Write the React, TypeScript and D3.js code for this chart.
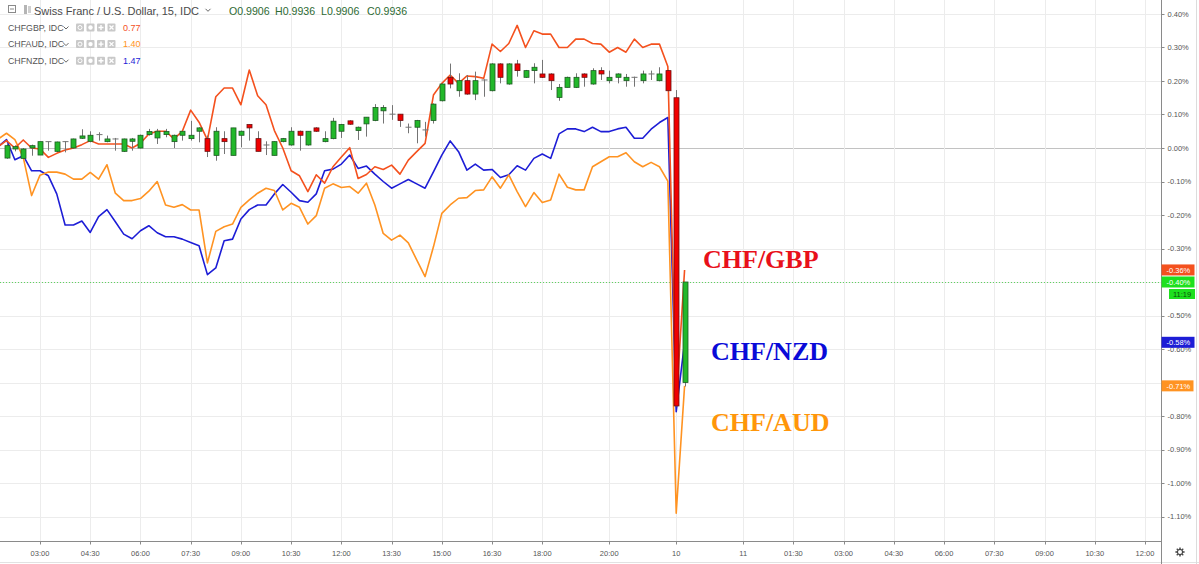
import React from "react";
import * as d3 from "d3";

const LINE_START = -5;
const CANDLE_START = -4;

const CHFGBP = [
  0.004, 0.022, 0.0, 0.024, 0.0, -0.003, -0.028, -0.016, -0.006, 0.0,
  0.01, 0.022, 0.012, 0.012, 0.012, 0.012, 0.0, 0.014, 0.042, 0.05,
  0.05, 0.027, 0.05, 0.113, 0.077, 0.024, 0.153, 0.179, 0.179, 0.129,
  0.233, 0.156, 0.129, 0.052, 0.0, -0.068, -0.083, -0.13, -0.08, -0.105,
  -0.056, -0.027, 0.001, -0.091, -0.079, -0.056, -0.064, -0.051, -0.078, -0.036,
  -0.011, 0.014, 0.158, 0.193, 0.218, 0.193, 0.215, 0.213, 0.208, 0.31,
  0.288, 0.312, 0.366, 0.3, 0.35, 0.34, 0.34, 0.3, 0.3, 0.325,
  0.325, 0.312, 0.31, 0.286, 0.3, 0.286, 0.325, 0.3, 0.31, 0.31,
  0.243, -0.76, -0.364,
];

const CHFAUD = [
  0.027, 0.044, 0.025, -0.028, -0.142, -0.081, -0.072, -0.072, -0.078, -0.093,
  -0.093, -0.073, -0.093, -0.05, -0.135, -0.157, -0.157, -0.151, -0.129, -0.1,
  -0.17, -0.177, -0.169, -0.185, -0.185, -0.343, -0.249, -0.235, -0.227, -0.177,
  -0.155, -0.135, -0.12, -0.127, -0.185, -0.165, -0.177, -0.227, -0.202, -0.12,
  -0.107, -0.118, -0.115, -0.135, -0.105, -0.17, -0.255, -0.275, -0.26, -0.283,
  -0.334, -0.384, -0.295, -0.195, -0.17, -0.15, -0.148, -0.127, -0.125, -0.086,
  -0.12, -0.08, -0.13, -0.175, -0.133, -0.163, -0.155, -0.078, -0.117, -0.125,
  -0.125, -0.056, -0.041, -0.026, -0.026, -0.014, -0.041, -0.056, -0.043, -0.056,
  -0.099, -1.09, -0.71,
];

const CHFNZD = [
  0.004, 0.025, -0.035, -0.023, -0.068, -0.068, -0.083, -0.137, -0.23, -0.23,
  -0.218, -0.252, -0.205, -0.184, -0.22, -0.257, -0.271, -0.247, -0.232, -0.253,
  -0.265, -0.265, -0.272, -0.282, -0.292, -0.378, -0.358, -0.277, -0.272, -0.212,
  -0.184, -0.17, -0.17, -0.137, -0.109, -0.132, -0.157, -0.162, -0.137, -0.068,
  -0.063, -0.048, -0.021, -0.061, -0.054, -0.078, -0.1, -0.12, -0.107, -0.094,
  -0.107, -0.12, -0.071, -0.021, 0.021, -0.011, -0.066, -0.048, -0.066, -0.064,
  -0.088, -0.08, -0.053, -0.066, -0.031, -0.018, -0.031, 0.042, 0.057, 0.057,
  0.049, 0.062, 0.049, 0.049, 0.057, 0.062, 0.029, 0.029, 0.056, 0.076,
  0.091, -0.787, -0.58,
];

const OPEN = [
  -0.03, -0.003, -0.031, 0.0, -0.021, 0.019, -0.01, 0.019, 0.0, 0.029,
  0.02, 0.04, 0.019, 0.027, -0.01, 0.02, 0.0, 0.04, 0.03, 0.04,
  0.019, 0.038, 0.028, 0.05, 0.028, -0.022, 0.028, -0.022, 0.038, 0.07,
  0.028, 0.009, -0.022, 0.019, 0.009, 0.05, 0.009, 0.06, 0.019, 0.028,
  0.05, 0.081, 0.052, 0.072, 0.082, 0.111, 0.101, 0.101, 0.062, 0.062,
  0.054, 0.082, 0.141, 0.211, 0.171, 0.201, 0.161, 0.203, 0.171, 0.251,
  0.191, 0.251, 0.211, 0.231, 0.221, 0.221, 0.151, 0.181, 0.181, 0.221,
  0.191, 0.231, 0.201, 0.211, 0.201, 0.211, 0.201, 0.221, 0.201, 0.231,
  0.15, -0.7,
];
const HIGH = [
  0.012, 0.008, 0.0, 0.01, 0.019, 0.019, 0.019, 0.02, 0.028, 0.056,
  0.05, 0.047, 0.037, 0.03, 0.028, 0.03, 0.04, 0.057, 0.057, 0.057,
  0.04, 0.05, 0.081, 0.062, 0.037, 0.062, 0.05, 0.06, 0.052, 0.07,
  0.05, 0.02, 0.02, 0.03, 0.062, 0.052, 0.05, 0.062, 0.05, 0.09,
  0.072, 0.083, 0.064, 0.092, 0.131, 0.128, 0.128, 0.101, 0.073, 0.084,
  0.078, 0.133, 0.193, 0.252, 0.223, 0.218, 0.228, 0.205, 0.253, 0.253,
  0.253, 0.263, 0.233, 0.253, 0.263, 0.223, 0.191, 0.213, 0.223, 0.223,
  0.238, 0.241, 0.231, 0.223, 0.221, 0.213, 0.231, 0.231, 0.241, 0.233,
  0.173, -0.4,
];
const LOW = [
  -0.032, -0.01, -0.033, -0.023, -0.021, -0.008, -0.012, -0.013, -0.002, 0.027,
  0.017, 0.022, 0.017, -0.008, -0.012, -0.008, -0.002, 0.037, 0.012, 0.032,
  0.0, 0.022, 0.022, 0.017, -0.027, -0.038, -0.018, -0.022, 0.002, 0.022,
  -0.01, -0.021, -0.022, 0.017, 0.007, -0.008, 0.007, 0.048, 0.017, 0.026,
  0.03, 0.069, 0.024, 0.034, 0.08, 0.073, 0.084, 0.063, 0.044, 0.014,
  0.034, 0.073, 0.139, 0.178, 0.153, 0.159, 0.143, 0.153, 0.169, 0.193,
  0.189, 0.213, 0.209, 0.193, 0.209, 0.173, 0.141, 0.181, 0.179, 0.183,
  0.189, 0.203, 0.193, 0.193, 0.183, 0.183, 0.193, 0.203, 0.199, 0.169,
  -0.772, -0.712,
];
const CLOSE = [
  0.007, 0.004, -0.003, 0.007, 0.019, 0.019, 0.018, 0.019, 0.027, 0.036,
  0.038, 0.04, 0.027, 0.027, 0.027, 0.027, 0.038, 0.049, 0.05, 0.049,
  0.038, 0.05, 0.038, 0.06, -0.01, 0.05, 0.019, 0.06, 0.05, 0.06,
  -0.01, 0.009, 0.019, 0.028, 0.05, 0.038, 0.05, 0.05, 0.028, 0.08,
  0.07, 0.071, 0.062, 0.092, 0.121, 0.121, 0.101, 0.082, 0.062, 0.082,
  0.054, 0.131, 0.191, 0.191, 0.201, 0.161, 0.201, 0.203, 0.251, 0.211,
  0.251, 0.231, 0.231, 0.241, 0.211, 0.201, 0.181, 0.211, 0.211, 0.211,
  0.231, 0.221, 0.211, 0.221, 0.211, 0.211, 0.221, 0.221, 0.221, 0.171,
  -0.77, -0.4,
];

const X_TICK_BARS = [0, 6, 12, 18, 24, 30, 36, 42, 48, 54, 60, 68, 76, 84, 90, 96, 102, 108, 114, 120, 126, 132];
const X_TICK_LABELS = [
  "03:00", "04:30", "06:00", "07:30", "09:00", "10:30", "12:00", "13:30", "15:00", "16:30", "18:00",
  "20:00", "10", "11", "01:30", "03:00", "04:30", "06:00", "07:30", "09:00", "10:30", "12:00",
];
const Y_TICKS = [0.4, 0.3, 0.2, 0.1, 0, -0.1, -0.2, -0.3, -0.4, -0.5, -0.6, -0.7, -0.8, -0.9, -1.0, -1.1];

const TITLE = "Swiss Franc / U.S. Dollar, 15, IDC";
const OHLC_LABELS = ["O0.9906", "H0.9936", "L0.9906", "C0.9936"];
const SERIES_NAMES = ["CHFGBP, IDC", "CHFAUD, IDC", "CHFNZD, IDC"];
const SERIES_VALUES = ["0.77", "1.40", "1.47"];
const ANNOTATIONS = ["CHF/GBP", "CHF/NZD", "CHF/AUD"];
const COUNTDOWN = "11:19";

const W = 1199;
const H = 564;
const PLOT_R = 1161.5;
const PLOT_B = 541.5;

const C_GBP = "#f4511e";
const C_AUD = "#ff9322";
const C_NZD = "#1d1dd6";
const C_UP = "#22b82a";
const C_DN = "#f00000";
const C_GRID = "#ececec";
const C_TEXT = "#555";
const FONT = "'Liberation Sans', Arial, sans-serif";

const x = d3.scaleLinear().domain([0, 132]).range([40, 1145]);
const y = d3.scaleLinear().domain([0, -1]).range([148, 483]);

const fmt = (v: number) => v.toFixed(2) + "%";

function linePath(vals: number[]) {
  const g = d3
    .line<number>()
    .x((_, i) => x(i + LINE_START))
    .y((d) => y(d));
  return g(vals) || "";
}

function Chevron({ cx, cy }: { cx: number; cy: number }) {
  return (
    <path
      d={`M${cx - 2.5},${cy - 1.2} L${cx},${cy + 1.3} L${cx + 2.5},${cy - 1.2}`}
      fill="none"
      stroke="#666"
      strokeWidth={1}
    />
  );
}

function Icons({ x0, cy }: { x0: number; cy: number }) {
  return (
    <g>
      {[0, 1, 2, 3].map((k) => {
        const xx = x0 + k * 10.5;
        return (
          <g key={k}>
            <rect x={xx} y={cy - 4} width={8} height={8} rx={1} fill="#c9c9c9" />
            {k === 0 && <circle cx={xx + 4} cy={cy} r={2} fill="none" stroke="#fff" strokeWidth={1} />}
            {k === 1 && <circle cx={xx + 4} cy={cy} r={2.2} fill="#fff" />}
            {k === 2 && (
              <path d={`M${xx + 4},${cy - 2.5} V${cy + 2.5} M${xx + 1.5},${cy} H${xx + 6.5}`} stroke="#fff" strokeWidth={1.4} />
            )}
            {k === 3 && (
              <path
                d={`M${xx + 2},${cy - 2} L${xx + 6},${cy + 2} M${xx + 6},${cy - 2} L${xx + 2},${cy + 2}`}
                stroke="#fff"
                strokeWidth={1.3}
              />
            )}
          </g>
        );
      })}
    </g>
  );
}

function PriceBox({ value, color, x0 = PLOT_R, w = 33 }: { value: number; color: string; x0?: number; w?: number }) {
  const cy = y(value);
  return (
    <g>
      <rect x={x0} y={cy - 5.5} width={w} height={11} fill={color} />
      <text x={x0 + 5} y={cy + 2.8} fontSize={7.5} fill="#fff" fontFamily={FONT}>
        {fmt(value)}
      </text>
    </g>
  );
}

export default function App() {
  const seriesColors = [C_GBP, C_AUD, C_NZD];
  const lastGBP = CHFGBP[CHFGBP.length - 1];
  const lastAUD = CHFAUD[CHFAUD.length - 1];
  const lastNZD = CHFNZD[CHFNZD.length - 1];
  const lastClose = CLOSE[CLOSE.length - 1];
  const boxValues = [lastGBP, lastClose, lastNZD, lastAUD];
  // tick labels fully hidden under a last-value box are not drawn (as in the reference)
  const visibleTicks = Y_TICKS.filter((t) => boxValues.every((b) => Math.abs(y(t) - y(b)) > 4));

  return (
    <svg
      width={W}
      height={H}
      style={{ position: "fixed", left: 0, top: 0, background: "#fff" }}
      xmlns="http://www.w3.org/2000/svg"
    >
      <defs>
        <clipPath id="plot">
          <rect x={0} y={0} width={PLOT_R} height={PLOT_B} />
        </clipPath>
      </defs>
      <rect x={0} y={0} width={W} height={H} fill="#fff" />

      {/* grid */}
      <g>
        {Y_TICKS.map((t) => (
          <line
            key={"hy" + t}
            x1={0}
            x2={PLOT_R}
            y1={Math.round(y(t)) + 0.5}
            y2={Math.round(y(t)) + 0.5}
            stroke={t === 0 ? "#c2c2c2" : C_GRID}
            strokeWidth={1}
          />
        ))}
        {X_TICK_BARS.map((b, k) => (
          <line
            key={"vx" + k}
            x1={Math.round(x(b)) + 0.5}
            x2={Math.round(x(b)) + 0.5}
            y1={0}
            y2={PLOT_B}
            stroke={C_GRID}
            strokeWidth={1}
          />
        ))}
      </g>

      {/* last price dotted line */}
      <line
        x1={0}
        x2={PLOT_R}
        y1={Math.round(y(lastClose)) + 0.5}
        y2={Math.round(y(lastClose)) + 0.5}
        stroke="#5fd35f"
        strokeWidth={1}
        strokeDasharray="1 2"
      />

      <g clipPath="url(#plot)">
        <path d={linePath(CHFNZD)} fill="none" stroke={C_NZD} strokeWidth={1.6} strokeLinejoin="round" />
        <path d={linePath(CHFAUD)} fill="none" stroke={C_AUD} strokeWidth={1.6} strokeLinejoin="round" />
        <path d={linePath(CHFGBP)} fill="none" stroke={C_GBP} strokeWidth={1.6} strokeLinejoin="round" />

        {OPEN.map((o, k) => {
          const i = k + CANDLE_START;
          const c = CLOSE[k];
          const cx = Math.round(x(i)) + 0.5;
          const up = c >= o;
          const doji = Math.abs(c - o) < 0.002;
          const top = y(Math.max(o, c));
          const bot = y(Math.min(o, c));
          return (
            <g key={"c" + k}>
              <line x1={cx} x2={cx} y1={y(HIGH[k])} y2={y(LOW[k])} stroke="#747474" strokeWidth={1} />
              {doji ? (
                <line x1={cx - 3} x2={cx + 3} y1={top} y2={top} stroke="#747474" strokeWidth={1} />
              ) : (
                <rect
                  x={cx - 2.5}
                  y={top}
                  width={5}
                  height={Math.max(1, bot - top)}
                  fill={up ? C_UP : C_DN}
                  stroke={up ? "#1d5a22" : "#6a1010"}
                  strokeWidth={0.8}
                />
              )}
            </g>
          );
        })}
      </g>

      {/* bottom axis */}
      <line x1={0} x2={PLOT_R} y1={PLOT_B} y2={PLOT_B} stroke="#8a8a8a" strokeWidth={1} />
      {X_TICK_BARS.map((b, k) => (
        <g key={"xt" + k}>
          <line
            x1={Math.round(x(b)) + 0.5}
            x2={Math.round(x(b)) + 0.5}
            y1={PLOT_B}
            y2={PLOT_B + 3}
            stroke="#8a8a8a"
          />
          <text x={x(b)} y={556} textAnchor="middle" fontSize={7.5} fill={C_TEXT} fontFamily={FONT}>
            {X_TICK_LABELS[k]}
          </text>
        </g>
      ))}
      <line x1={0} x2={W} y1={562.5} y2={562.5} stroke="#e2e2e2" />

      {/* right axis */}
      <line x1={PLOT_R} x2={PLOT_R} y1={0} y2={H} stroke="#8a8a8a" strokeWidth={1} />
      <line x1={1196.5} x2={1196.5} y1={0} y2={H} stroke="#dcdcdc" strokeWidth={1} />
      {Y_TICKS.map((t) => (
        <line
          key={"ytl" + t}
          x1={PLOT_R}
          x2={PLOT_R + 3}
          y1={Math.round(y(t)) + 0.5}
          y2={Math.round(y(t)) + 0.5}
          stroke="#8a8a8a"
        />
      ))}
      {visibleTicks.map((t) => (
        <text key={"yt" + t} x={1167.5} y={y(t) + 2.7} fontSize={7.5} fill={C_TEXT} fontFamily={FONT}>
          {fmt(t)}
        </text>
      ))}

      {/* last value boxes */}
      <PriceBox value={lastGBP} color={C_GBP} />
      <PriceBox value={lastClose} color="#1ee01e" />
      <g>
        <rect x={1169} y={y(lastClose) + 7} width={26} height={10} fill="#1ee01e" />
        <text x={1173} y={y(lastClose) + 14.7} fontSize={7.5} fill="#0b4d0b" fontFamily={FONT}>
          {COUNTDOWN}
        </text>
      </g>
      <PriceBox value={lastNZD} color={C_NZD} />
      <PriceBox value={lastAUD} color={C_AUD} w={32} />

      {/* gear */}
      <g transform="translate(1180,552)">
        <circle r={2.6} fill="none" stroke="#444" strokeWidth={1.2} />
        {d3.range(8).map((k) => {
          const a = (k * Math.PI) / 4;
          return (
            <line
              key={"g" + k}
              x1={Math.cos(a) * 3}
              y1={Math.sin(a) * 3}
              x2={Math.cos(a) * 4.6}
              y2={Math.sin(a) * 4.6}
              stroke="#444"
              strokeWidth={1.4}
            />
          );
        })}
      </g>

      {/* annotations */}
      <g fontFamily="'Liberation Serif', 'Times New Roman', serif" fontWeight="bold" fontSize={26}>
        <text x={703} y={268} fill="#e8101a">
          {ANNOTATIONS[0]}
        </text>
        <text x={711} y={360} fill="#0a0ad8">
          {ANNOTATIONS[1]}
        </text>
        <text x={711} y={431} fill="#ff960a">
          {ANNOTATIONS[2]}
        </text>
      </g>

      {/* legend */}
      <g fontFamily={FONT}>
        <rect x={8.5} y={5.5} width={7} height={7} fill="#fff" stroke="#8a8a8a" />
        <line x1={10} x2={14} y1={9} y2={9} stroke="#8a8a8a" />
        <rect x={24} y={5} width={3} height={9} fill="#b5b5b5" />
        <rect x={28} y={6} width={3} height={7} fill="#cfcfcf" />
        <text x={34} y={15} fontSize={11} fill="#4a4a4a">
          {TITLE}
        </text>
        <Chevron cx={208} cy={10} />
        {OHLC_LABELS.map((t, k) => (
          <text key={t + k} x={229 + k * 46} y={15} fontSize={10.6} fill="#2e6a33">
            {t}
          </text>
        ))}
        {SERIES_NAMES.map((n, k) => {
          const by = 30.7 + k * 16.6;
          return (
            <g key={n}>
              <text x={8} y={by} fontSize={8.8} fill={C_TEXT}>
                {n}
              </text>
              <Chevron cx={66} cy={by - 3} />
              <Icons x0={76} cy={by - 3.2} />
              <text x={123} y={by} fontSize={9} fill={seriesColors[k]}>
                {SERIES_VALUES[k]}
              </text>
            </g>
          );
        })}
      </g>
    </svg>
  );
}
